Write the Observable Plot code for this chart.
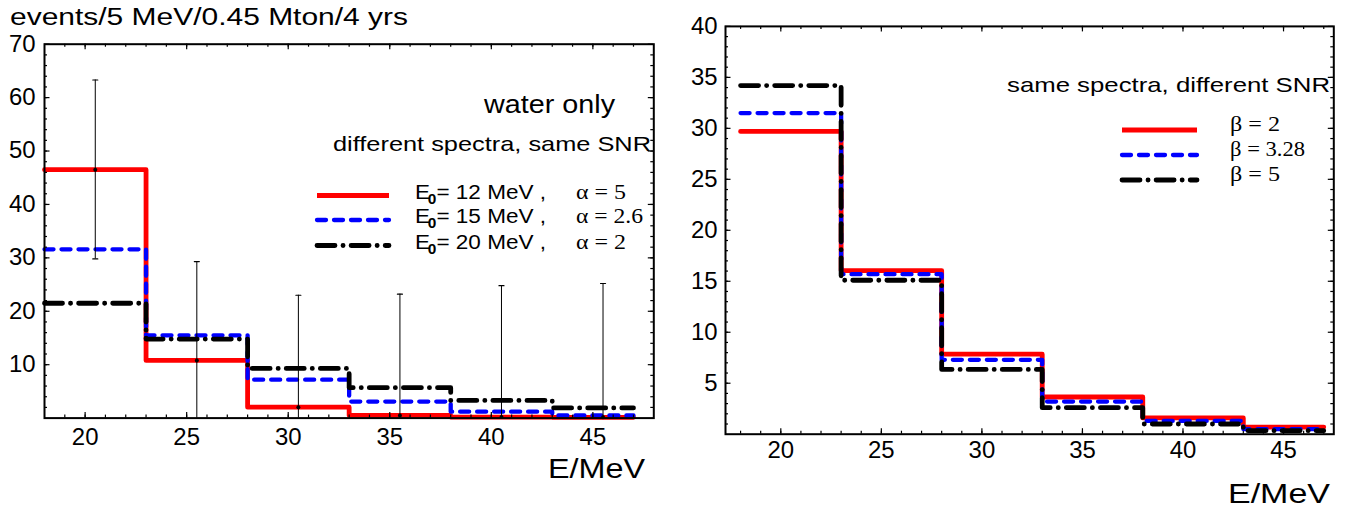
<!DOCTYPE html>
<html><head><meta charset="utf-8">
<script src="https://cdn.jsdelivr.net/npm/d3@7"></script>
<script src="https://cdn.jsdelivr.net/npm/@observablehq/plot@0.6"></script>
<style>
body{margin:0;background:#fff;}
#wrap{position:relative;width:1345px;height:508px;overflow:hidden;background:#fff;}
#wrap > svg{position:absolute;top:0;max-width:none !important;}
</style></head><body><div id="wrap"></div>
<script>
// ---------- data ----------
const binEdges = [18, 23, 28, 33, 38, 43];
const binEnd = 47;
const leftRed   = [46.5, 10.8, 2.05, 0.5, 0.2, 0.15];
const leftBlue  = [31.6, 15.5, 7.2, 3.1, 1.2, 0.5];
const leftBlack = [21.5, 14.8, 9.3, 5.7, 3.3, 1.9];
const errX    = [20.5, 25.5, 30.5, 35.5, 40.5, 45.5];
const errMid  = [46.5, 10.8, 2.05, 0.5, 0.2, 0.15];
const errLow  = [29.8, 0, 0, 0, 0, 0];
const errHigh = [63.3, 29.3, 23.0, 23.2, 24.8, 25.2];
const rightRed   = [29.7, 16.05, 7.85, 3.65, 1.6, 0.7];
const rightBlue  = [31.5, 15.7, 7.3, 3.2, 1.3, 0.5];
const rightBlack = [34.2, 15.1, 6.35, 2.6, 1.0, 0.35];
const leftXTicks  = [20, 25, 30, 35, 40, 45];
const leftYTicks  = [10, 20, 30, 40, 50, 60, 70];
const rightXTicks = [20, 25, 30, 35, 40, 45];
const rightYTicks = [5, 10, 15, 20, 25, 30, 35, 40];
const leftXMinor  = d3.range(19, 48);
const leftYMinor  = d3.range(2, 70, 2);
const rightXMinor = d3.range(18, 48);
const rightYMinor = d3.range(1, 40);
const titleText = "events/5 MeV/0.45 Mton/4 yrs";
const leftNote1 = "water only";
const leftNote2 = "different spectra, same SNR";
const leftLegendE = ["12", "15", "20"];
const leftLegendAlpha = ["5", "2.6", "2"];
const rightNote = "same spectra, different SNR";
const rightLegendBeta = ["2", "3.28", "5"];
const xLabel = "E/MeV";

// ---------- helpers ----------
const steps = vals => [...binEdges.map((x, i) => ({x, y: vals[i]})), {x: binEnd, y: vals[vals.length - 1]}];
const sRed   = {stroke: "#ff0000", strokeWidth: 4.8};
const sBlue  = {stroke: "#0000ff", strokeWidth: 4.3, strokeDasharray: "9,8", strokeLinecap: "round"};
const sBlack = {stroke: "#000000", strokeWidth: 4.8, strokeDasharray: "18,8,0.1,8", strokeLinecap: "round"};
const FONT = "'Liberation Sans', Arial, Helvetica, sans-serif";
const SERIF = "'Liberation Serif', 'Times New Roman', serif";

function frameTicks(xMinor, xMajor, yMinor, yMajor, iw, ih) {
  const s = {stroke: "black", strokeWidth: 1.2};
  return [
    Plot.ruleX(xMinor, {x: d => d, insetTop: ih - 3, ...s}),
    Plot.ruleX(xMinor, {x: d => d, insetBottom: ih - 3, ...s}),
    Plot.ruleX(xMajor, {x: d => d, insetTop: ih - 5.5, ...s}),
    Plot.ruleX(xMajor, {x: d => d, insetBottom: ih - 5.5, ...s}),
    Plot.ruleY(yMinor, {y: d => d, insetRight: iw - 3, ...s}),
    Plot.ruleY(yMinor, {y: d => d, insetLeft: iw - 3, ...s}),
    Plot.ruleY(yMajor, {y: d => d, insetRight: iw - 5.5, ...s}),
    Plot.ruleY(yMajor, {y: d => d, insetLeft: iw - 5.5, ...s})
  ];
}
const capShape = {draw(ctx, l) { ctx.moveTo(0, 0); ctx.lineTo(0, -l); }};

// ---------- left panel ----------
const L = {w: 670, h: 508, ml: 44, mr: 16.7, mt: 43.7, mb: 90.4};
const Liw = L.w - L.ml - L.mr, Lih = L.h - L.mt - L.mb;
const errData = errX.map((x, i) => ({x, lo: errLow[i], hi: errHigh[i], mid: errMid[i]}));
const left = Plot.plot({
  width: L.w, height: L.h,
  marginLeft: L.ml, marginRight: L.mr, marginTop: L.mt, marginBottom: L.mb,
  style: {fontFamily: FONT, fontSize: "23px", color: "black", background: "transparent"},
  x: {domain: [18, 48]},
  y: {domain: [0, 70]},
  marks: [
    Plot.line(steps(leftRed),   {x: "x", y: "y", curve: "step-after", ...sRed}),
    Plot.line(steps(leftBlue),  {x: "x", y: "y", curve: "step-after", ...sBlue}),
    Plot.line(steps(leftBlack), {x: "x", y: "y", curve: "step-after", ...sBlack}),
    Plot.ruleX(errData, {x: "x", y1: "lo", y2: "hi", stroke: "black", strokeWidth: 1}),
    Plot.vector(errData, {x: "x", y: "hi", length: 5, rotate: 90, anchor: "middle", shape: capShape, stroke: "black", strokeWidth: 1.2}),
    Plot.vector(errData.filter(d => d.lo > 0), {x: "x", y: "lo", length: 5, rotate: 90, anchor: "middle", shape: capShape, stroke: "black", strokeWidth: 1.2}),
    Plot.dot(errData, {x: "x", y: "mid", r: 2, fill: "black"}),
    ...frameTicks(leftXMinor, leftXTicks, leftYMinor, leftYTicks, Liw, Lih),
    Plot.frame({stroke: "black", strokeWidth: 2}),
    Plot.axisX({ticks: leftXTicks, tickSize: 0, tickPadding: 11, label: null, tickFormat: d => String(d)}),
    Plot.axisY({ticks: leftYTicks, tickSize: 0, tickPadding: 9, label: null, tickFormat: d => String(d)})
  ]
});

// ---------- right panel ----------
const R = {x0: 670, w: 675, h: 508, ml: 55, mr: 11.7, mt: 25.9, mb: 74.3};
const Riw = R.w - R.ml - R.mr, Rih = R.h - R.mt - R.mb;
const right = Plot.plot({
  width: R.w, height: R.h,
  marginLeft: R.ml, marginRight: R.mr, marginTop: R.mt, marginBottom: R.mb,
  style: {fontFamily: FONT, fontSize: "23px", color: "black", background: "transparent"},
  x: {domain: [17.25, 47.5]},
  y: {domain: [0, 40]},
  marks: [
    Plot.line(steps(rightRed),   {x: "x", y: "y", curve: "step-after", ...sRed}),
    Plot.line(steps(rightBlue),  {x: "x", y: "y", curve: "step-after", ...sBlue}),
    Plot.line(steps(rightBlack), {x: "x", y: "y", curve: "step-after", ...sBlack}),
    ...frameTicks(rightXMinor, rightXTicks, rightYMinor, rightYTicks, Riw, Rih),
    Plot.frame({stroke: "black", strokeWidth: 2}),
    Plot.axisX({ticks: rightXTicks, tickSize: 0, tickPadding: 7.5, label: null, tickFormat: d => String(d)}),
    Plot.axisY({ticks: rightYTicks, tickSize: 0, tickPadding: 8, label: null, tickFormat: d => String(d)})
  ]
});

const wrap = document.getElementById("wrap");
left.style.left = "0px";
right.style.left = R.x0 + "px";
wrap.appendChild(left);
wrap.appendChild(right);

// widen tick labels slightly (reference text is horizontally stretched)
for (const svg of [left, right]) {
  svg.querySelectorAll("g[aria-label$='tick label'] text").forEach(t => {
    const len = t.getComputedTextLength();
    t.setAttribute("textLength", len * 1.04);
    t.setAttribute("lengthAdjust", "spacingAndGlyphs");
  });
}

// ---------- overlay: titles, notes, legends ----------
const ov = d3.select(wrap).append("svg")
  .attr("width", 1345).attr("height", 508)
  .style("left", "0px").style("pointer-events", "none");

function txt(s, x, y, size, len, family = FONT) {
  const t = ov.append("text").attr("x", x).attr("y", y)
    .attr("font-family", family).attr("font-size", size).attr("fill", "black").text(s);
  if (len) t.attr("textLength", len).attr("lengthAdjust", "spacingAndGlyphs");
  return t;
}
function swatch(x1, x2, y, st) {
  ov.append("line").attr("x1", x1).attr("x2", x2).attr("y1", y).attr("y2", y)
    .attr("stroke", st.stroke).attr("stroke-width", st.strokeWidth)
    .attr("stroke-dasharray", st.strokeDasharray || null)
    .attr("stroke-linecap", st.strokeLinecap || "butt");
}

txt(titleText, 10, 25, 23, 398);
txt(leftNote1, 484, 113, 26, 131);
txt(leftNote2, 333, 151, 21, 318);

const legStyles = [sRed, sBlue, sBlack];
const leftRowY = [195.5, 220, 245.5];
leftLegendE.forEach((e, i) => {
  const y = leftRowY[i];
  swatch(317, 389, y, legStyles[i]);
  const t = ov.append("text").attr("x", 415).attr("y", y + 3)
    .attr("font-family", FONT).attr("font-size", 20.5).attr("fill", "black")
    .attr("textLength", 131).attr("lengthAdjust", "spacingAndGlyphs");
  t.append("tspan").text("E");
  t.append("tspan").attr("font-size", 14).attr("font-weight", "bold").attr("dy", 5).attr("dx", -2).text("0");
  t.append("tspan").attr("dy", -5).text(`= ${e} MeV ,`);
  txt(`α = ${leftLegendAlpha[i]}`, 576, y + 3, 21, null, SERIF).attr("textLength", leftLegendAlpha[i].length > 1 ? 67 : 50).attr("lengthAdjust", "spacingAndGlyphs");
});
txt(xLabel, 548, 478, 27, 97);

txt(rightNote, 1007, 92, 21, 323);
const rightRowY = [130, 155, 180];
rightLegendBeta.forEach((b, i) => {
  const y = rightRowY[i];
  swatch(1122, 1197, y, legStyles[i]);
  txt(`β = ${b}`, 1230, y + 1, 21, b.length > 1 ? 75 : 50, SERIF);
});
txt(xLabel, 1228, 503, 27, 102);
</script></body></html>
